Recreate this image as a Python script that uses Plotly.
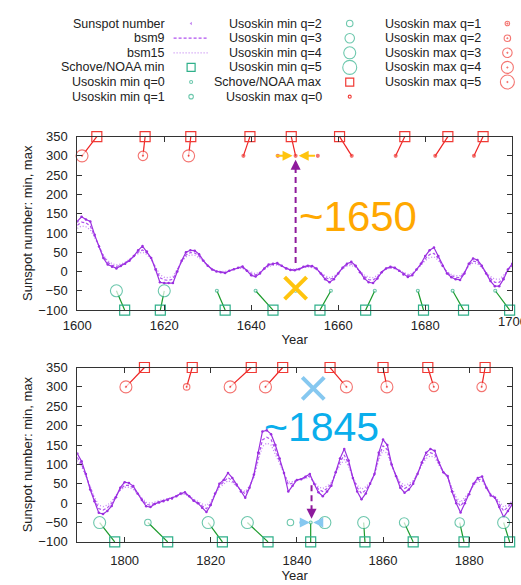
import plotly.graph_objects as go

# ---------------- data ----------------
top_years = list(range(1600, 1701))
top_ssn = [130, 142, 135, 130, 95, 65, 35, 18, 12, 8,
           14, 20, 28, 40, 55, 66, 52, 35, 5, -28,
           -30, -30, -30, 0, 28, 50, 55, 54, 45, 28,
           15, 5, 0, -2, -4, 2, 6, 10, 13, 2,
           -10, -13, -5, 8, 18, 20, 22, 15, 8, 4,
           3, 6, 12, 15, 14, 8, -5, -20, -28, -20,
           -5, 10, 20, 25, 15, -2, -18, -28, -30, -18,
           -2, 8, 12, 10, 2, -8, -14, -10, 5, 20,
           40, 55, 62, 40, 15, -5, -15, -20, -22, -5,
           20, 34, 30, 15, -5, -25, -38, -38, -20, 5,
           20]
top_bsm9 = [120, 128, 126, 118, 92, 66, 40, 24, 16, 13,
            16, 22, 30, 40, 50, 56, 48, 34, 8, -16,
            -22, -23, -20, 2, 27, 43, 49, 48, 40, 27,
            15, 6, 1, -1, -2, 2, 6, 9, 10, 3,
            -6, -9, -3, 7, 15, 18, 19, 14, 9, 5,
            5, 7, 11, 13, 12, 6, -4, -15, -21, -16,
            -4, 8, 17, 20, 13, 0, -13, -21, -22, -14,
            -1, 7, 10, 8, 2, -6, -10, -7, 5, 18,
            33, 44, 47, 34, 14, -2, -11, -15, -16, -3,
            17, 27, 25, 12, -4, -18, -28, -28, -15, 4,
            16]
top_bsm15 = [112, 118, 116, 108, 88, 64, 42, 28, 20, 17,
             19, 24, 31, 39, 46, 50, 44, 32, 12, -8,
             -15, -16, -13, 5, 25, 38, 43, 42, 36, 25,
             15, 7, 2, 0, 0, 3, 6, 8, 8, 3,
             -3, -6, -1, 7, 13, 16, 17, 13, 9, 6,
             6, 8, 10, 12, 10, 5, -3, -11, -16, -12,
             -3, 7, 14, 16, 11, 1, -9, -15, -16, -10,
             0, 6, 9, 7, 2, -4, -7, -5, 5, 16,
             28, 36, 38, 29, 13, 0, -8, -11, -11, -1,
             15, 22, 20, 10, -3, -13, -20, -20, -10, 4,
             13]

bot_years = list(range(1789, 1891))
bot_ssn = [128,
           108, 75, 35, 5, -25, -28, -20, -7, 15, 40,
           54, 52, 44, 25, 8, -8, -10, -2, 2, 5,
           8, 12, 18, 25, 28, 18, 6, 0, -12, -23,
           -5, 25, 50, 60, 78, 65, 48, 30, 14, 40,
           73, 130, 185, 188, 178, 150, 115, 78, 30, 45,
           60, 62, 68, 75, 50, 28, 18, 30, 45, 80,
           115, 140, 110, 65, 30, 10, 25, 50, 75, 130,
           164, 150, 100, 70, 40, 27, 35, 50, 75, 105,
           130, 140, 135, 105, 80, 70, 30, 0, -24, 0,
           23, 50, 65, 69, 40, 20, 14, -10, -36, -20,
           -3]
bot_bsm9 = [118,
            100, 72, 38, 10, -14, -18, -12, 0, 18, 36,
            46, 46, 40, 25, 10, -3, -5, 0, 4, 7,
            10, 14, 19, 24, 25, 18, 8, 2, -7, -14,
            -1, 24, 44, 54, 66, 58, 46, 33, 24, 42,
            70, 120, 163, 170, 164, 138, 108, 78, 48, 52,
            60, 62, 66, 70, 52, 36, 30, 38, 50, 78,
            106, 124, 102, 66, 40, 25, 34, 52, 74, 120,
            148, 138, 98, 72, 48, 38, 44, 55, 76, 102,
            122, 130, 126, 102, 80, 68, 34, 8, -8, 8,
            26, 48, 60, 62, 40, 22, 15, -3, -20, -10,
            3]
bot_bsm15 = [110,
             95, 70, 40, 15, -5, -9, -5, 5, 20, 33,
             41, 41, 36, 24, 12, 2, 0, 3, 6, 8,
             11, 14, 18, 22, 23, 17, 10, 4, -2, -6,
             4, 24, 40, 49, 58, 53, 44, 35, 30, 44,
             66, 110, 146, 155, 150, 128, 102, 76, 54, 56,
             60, 62, 64, 66, 54, 42, 38, 44, 53, 76,
             98, 112, 96, 66, 46, 36, 42, 54, 72, 112,
             136, 128, 96, 73, 54, 46, 50, 58, 76, 98,
             115, 122, 118, 98, 80, 66, 38, 15, 2, 14,
             28, 46, 56, 57, 40, 24, 17, 4, -10, -4,
             6]

# extrema epochs (Schove/NOAA paired with Usoskin by index; extra Usoskin entries are unpaired)
top_max_schove = [1604.5, 1615.6, 1626.1, 1639.7, 1649.2, 1660.3, 1675.3, 1685.2, 1693.3]
top_max_usoskin = [1601.1, 1615.1, 1625.6, 1638.2, 1650.2, 1663.1, 1673.2, 1682.3, 1691.2, 1646.1, 1655.3]
top_max_q = [4, 3, 4, 0, 0, 0, 0, 0, 0, 0, 0]
top_min_schove = [1610.9, 1619.1, 1634.0, 1645.0, 1655.8, 1666.3, 1679.6, 1688.8, 1699.4]
top_min_usoskin = [1609.0, 1620.0, 1632.1, 1641.0, 1658.3, 1668.4, 1678.3, 1686.3, 1696.1, 1650.2]
top_min_q = [4, 4, 0, 0, 0, 0, 0, 0, 0, 0]

bot_max_schove = [1804.6, 1815.7, 1829.4, 1836.7, 1847.7, 1860.0, 1870.4, 1883.7]
bot_max_usoskin = [1800.3, 1814.4, 1824.5, 1832.7, 1851.5, 1860.9, 1871.8, 1882.9]
bot_max_q = [4, 2, 4, 4, 4, 4, 3, 3]
bot_min_schove = [1797.7, 1810.0, 1822.7, 1833.3, 1843.2, 1855.8, 1867.0, 1878.8, 1889.4]
bot_min_usoskin = [1794.2, 1805.4, 1819.4, 1828.5, 1843.2, 1855.5, 1864.9, 1877.8, 1888.0, 1838.5, 1846.5]
bot_min_q = [4, 2, 4, 4, 0, 4, 3, 3, 4, 2, 4]

top_xticks = [1600, 1620, 1640, 1660, 1680, 1700]
bot_xticks = [1800, 1820, 1840, 1860, 1880]

SCHOVE_MAX_LEVEL = 350
USOSKIN_MAX_LEVEL = 300
USOSKIN_MIN_LEVEL = -50
SCHOVE_MIN_LEVEL = -100

# ---------------- styling ----------------
W, H = 521, 585
PL, PR = 65, 512
TOP_T, TOP_B = 133, 311
BOT_T, BOT_B = 370, 549

FONT = "Liberation Sans, Arial, sans-serif"
P_SOLID = "#9B30E0"
P_DASH = "#B050F0"
P_DOT = "#C488F2"
RED = "#F03A35"
RED_LINE = "#EE2222"
GREEN = "#2FB08A"
GREEN_LINE = "#1A9A2A"
AXC = "#333333"
Q_SIZE = {0: 3, 1: 4.5, 2: 6.5, 3: 9.5, 4: 12, 5: 14}


def px(x):
    return x / W


def py(y):
    return 1 - y / H


fig = go.Figure()


def add_panel(xr, yr, years, ssn, b9, b15, mxs, mxu, mxq, mns, mnu, mnq):
    kw = dict(xaxis=xr, yaxis=yr, showlegend=False, hoverinfo="skip")
    fig.add_trace(go.Scatter(x=years, y=b15, mode="lines",
                             line=dict(color=P_DOT, width=1.3, dash="1px,2px"), **kw))
    fig.add_trace(go.Scatter(x=years, y=b9, mode="lines",
                             line=dict(color=P_DASH, width=1.2, dash="3px,2px"), **kw))
    fig.add_trace(go.Scatter(x=years, y=ssn, mode="lines+markers",
                             line=dict(color=P_SOLID, width=1.2),
                             marker=dict(size=2.5, color=P_SOLID), **kw))
    # connectors
    cx, cy = [], []
    for s, u in zip(mxs, mxu):
        cx += [s, u, None]
        cy += [SCHOVE_MAX_LEVEL, USOSKIN_MAX_LEVEL, None]
    fig.add_trace(go.Scatter(x=cx, y=cy, mode="lines", line=dict(color=RED_LINE, width=1.2),
                             cliponaxis=False, **kw))
    cx, cy = [], []
    for s, u in zip(mns, mnu):
        cx += [s, u, None]
        cy += [SCHOVE_MIN_LEVEL, USOSKIN_MIN_LEVEL, None]
    fig.add_trace(go.Scatter(x=cx, y=cy, mode="lines", line=dict(color=GREEN_LINE, width=1.2),
                             cliponaxis=False, **kw))
    # markers
    fig.add_trace(go.Scatter(x=mxs, y=[SCHOVE_MAX_LEVEL] * len(mxs), mode="markers",
                             marker=dict(symbol="square", size=10, color="rgba(255,255,255,0)",
                                         line=dict(color=RED, width=1.2)),
                             cliponaxis=False, **kw))
    fig.add_trace(go.Scatter(x=mns, y=[SCHOVE_MIN_LEVEL] * len(mns), mode="markers",
                             marker=dict(symbol="square", size=10, color="rgba(255,255,255,0)",
                                         line=dict(color=GREEN, width=1.2)),
                             cliponaxis=False, **kw))
    fig.add_trace(go.Scatter(x=mxu, y=[USOSKIN_MAX_LEVEL] * len(mxu), mode="markers",
                             marker=dict(symbol="circle-dot", size=[Q_SIZE[q] for q in mxq], color="white",
                                         line=dict(color=RED, width=1.1)),
                             cliponaxis=False, **kw))
    fig.add_trace(go.Scatter(x=mnu, y=[USOSKIN_MIN_LEVEL] * len(mnu), mode="markers",
                             marker=dict(symbol="circle", size=[Q_SIZE[q] for q in mnq], color="white",
                                         line=dict(color=GREEN, width=1.1)),
                             cliponaxis=False, **kw))


add_panel("x", "y", top_years, top_ssn, top_bsm9, top_bsm15,
          top_max_schove, top_max_usoskin, top_max_q,
          top_min_schove, top_min_usoskin, top_min_q)
add_panel("x2", "y2", bot_years, bot_ssn, bot_bsm9, bot_bsm15,
          bot_max_schove, bot_max_usoskin, bot_max_q,
          bot_min_schove, bot_min_usoskin, bot_min_q)

# highlight marks
ARROW_PURPLE = "#8E1A9C"
YELLOW = "#FFC40E"
BLUE_TXT = "#0AAEEC"
BLUE_LIGHT = "#86C8F0"

fig.add_trace(go.Scatter(x=[1650.2, 1650.2], y=[22, 272], mode="lines",
                         line=dict(color=ARROW_PURPLE, width=2, dash="6px,4px"),
                         xaxis="x", yaxis="y", showlegend=False, hoverinfo="skip"))
fig.add_trace(go.Scatter(x=[1843.4, 1843.4], y=[46, -26], mode="lines",
                         line=dict(color=ARROW_PURPLE, width=2, dash="6px,4px"),
                         xaxis="x2", yaxis="y2", showlegend=False, hoverinfo="skip"))
fig.add_trace(go.Scatter(x=[1650.2], y=[-43], mode="markers",
                         marker=dict(symbol="x-thin-open", size=22, color=YELLOW,
                                     line=dict(color=YELLOW, width=4)),
                         xaxis="x", yaxis="y", showlegend=False, hoverinfo="skip"))
fig.add_trace(go.Scatter(x=[1843.8], y=[296], mode="markers",
                         marker=dict(symbol="x-thin-open", size=22, color=BLUE_LIGHT,
                                     line=dict(color=BLUE_LIGHT, width=4)),
                         xaxis="x2", yaxis="y2", showlegend=False, hoverinfo="skip"))

annotations = []


def arrow(xh, yh, xt, yt, color, xr, yr, width=2):
    annotations.append(dict(x=xh, y=yh, ax=xt, ay=yt, xref=xr, yref=yr, axref=xr, ayref=yr,
                            showarrow=True, arrowhead=2, arrowsize=1, arrowwidth=width,
                            arrowcolor=color, text=""))


arrow(1650.2, 290, 1650.2, 268, ARROW_PURPLE, "x", "y")
arrow(1649.5, 300, 1645.3, 300, YELLOW, "x", "y")
arrow(1650.9, 300, 1655.0, 300, YELLOW, "x", "y")
arrow(1843.4, -40, 1843.4, -22, ARROW_PURPLE, "x2", "y2")
arrow(1843.0, -50, 1840.2, -50, BLUE_LIGHT, "x2", "y2")
arrow(1843.8, -50, 1846.0, -50, BLUE_LIGHT, "x2", "y2")

annotations.append(dict(x=1664.5, y=142, xref="x", yref="y", text="~1650", showarrow=False,
                        xanchor="center", yanchor="middle",
                        font=dict(family=FONT, size=42, color="#FFA800")))
annotations.append(dict(x=1845.8, y=196, xref="x2", yref="y2", text="~1845", showarrow=False,
                        xanchor="center", yanchor="middle",
                        font=dict(family=FONT, size=41, color=BLUE_TXT)))

# last top tick label (runs off the right edge of the canvas, as in the reference)
annotations.append(dict(x=top_xticks[-1], y=py(323), xref="x", yref="paper", text=str(top_xticks[-1]),
                        showarrow=False, xanchor="center", yanchor="middle",
                        font=dict(family=FONT, size=13, color="#222")))

# y axis titles
for yc in [(TOP_T + TOP_B) / 2, (BOT_T + BOT_B) / 2]:
    annotations.append(dict(x=px(14), y=py(yc), xref="paper", yref="paper",
                            xanchor="center", yanchor="middle",
                            text="Sunspot number: min, max", textangle=-90, showarrow=False,
                            font=dict(family=FONT, size=13, color="#222")))

# ---------------- key (legend) ----------------
rows = [17, 32, 47, 62, 77, 92]
col_text = [157, 319, 482]
col_samp = [182, 345, 507]
key_labels = [
    ["Sunspot number", "bsm9", "bsm15", "Schove/NOAA min", "Usoskin min q=0", "Usoskin min q=1"],
    ["Usoskin min q=2", "Usoskin min q=3", "Usoskin min q=4", "Usoskin min q=5",
     "Schove/NOAA max", "Usoskin max q=0"],
    ["Usoskin max q=1", "Usoskin max q=2", "Usoskin max q=3", "Usoskin max q=4", "Usoskin max q=5"],
]
for ci, labels in enumerate(key_labels):
    for ri, lab in enumerate(labels):
        annotations.append(dict(x=px(col_text[ci]), y=py(rows[ri]), xref="paper", yref="paper",
                                text=lab, showarrow=False, xanchor="right", yanchor="middle",
                                font=dict(family=FONT, size=12.5, color="#222")))

kk = dict(xaxis="x3", yaxis="y3", showlegend=False, hoverinfo="skip", cliponaxis=False)
fig.add_trace(go.Scatter(x=[col_samp[0]], y=[rows[0]], mode="markers",
                         marker=dict(size=3, color=P_DOT, symbol="triangle-left"), **kk))
fig.add_trace(go.Scatter(x=[164, 199], y=[rows[1]] * 2, mode="lines",
                         line=dict(color=P_DASH, width=1.2, dash="3px,2px"), **kk))
fig.add_trace(go.Scatter(x=[164, 199], y=[rows[2]] * 2, mode="lines",
                         line=dict(color=P_DOT, width=1.3, dash="1px,2px"), **kk))
fig.add_trace(go.Scatter(x=[col_samp[0]], y=[rows[3]], mode="markers",
                         marker=dict(symbol="square-open", size=8, color=GREEN, line=dict(width=1.2)), **kk))
fig.add_trace(go.Scatter(x=[col_samp[0]] * 2, y=[rows[4], rows[5]], mode="markers",
                         marker=dict(symbol="circle-open", size=[Q_SIZE[0], Q_SIZE[1]], color=GREEN,
                                     line=dict(width=1.1)), **kk))
fig.add_trace(go.Scatter(x=[col_samp[1]] * 4, y=rows[0:4], mode="markers",
                         marker=dict(symbol="circle-open", size=[Q_SIZE[q] for q in [2, 3, 4, 5]],
                                     color=GREEN, line=dict(width=1.1)), **kk))
fig.add_trace(go.Scatter(x=[col_samp[1]], y=[rows[4]], mode="markers",
                         marker=dict(symbol="square-open", size=8, color=RED, line=dict(width=1.2)), **kk))
fig.add_trace(go.Scatter(x=[col_samp[1]], y=[rows[5]], mode="markers",
                         marker=dict(symbol="circle-open", size=Q_SIZE[0], color=RED, line=dict(width=1.1)), **kk))
fig.add_trace(go.Scatter(x=[col_samp[2]] * 5, y=rows[0:5], mode="markers",
                         marker=dict(symbol="circle-open-dot", size=[Q_SIZE[q] for q in [1, 2, 3, 4, 5]],
                                     color=RED, line=dict(width=1.1)), **kk))

# ---------------- layout ----------------
axis_style = dict(showline=True, linecolor=AXC, linewidth=1, mirror="ticks", ticks="inside",
                  ticklen=5, tickcolor=AXC, showgrid=False, zeroline=False,
                  tickfont=dict(family=FONT, size=13, color="#222"))
xtitle = dict(text="Year", font=dict(family=FONT, size=13, color="#222"), standoff=3)

fig.update_layout(
    width=W, height=H, margin=dict(l=0, r=0, t=0, b=0),
    paper_bgcolor="white", plot_bgcolor="rgba(0,0,0,0)",
    xaxis=dict(domain=[px(PL), px(PR)], range=[1600, 1700], tickvals=top_xticks,
               anchor="y", ticklabelstandoff=3, title=xtitle, **axis_style),
    yaxis=dict(domain=[py(TOP_B), py(TOP_T)], range=[-100, 350], dtick=50, anchor="x",
               ticklabelstandoff=6, **axis_style),
    xaxis2=dict(domain=[px(PL), px(PR)], range=[1789, 1890], tickvals=bot_xticks,
                anchor="y2", ticklabelstandoff=6, title=xtitle, **axis_style),
    yaxis2=dict(domain=[py(BOT_B), py(BOT_T)], range=[-100, 350], dtick=50, anchor="x2",
                ticklabelstandoff=6, **axis_style),
    xaxis3=dict(domain=[0, 1], range=[0, W], visible=False, anchor="y3"),
    yaxis3=dict(domain=[0, 1], range=[H, 0], visible=False, anchor="x3"),
    annotations=annotations,
)

fig.write_html("out.html")
